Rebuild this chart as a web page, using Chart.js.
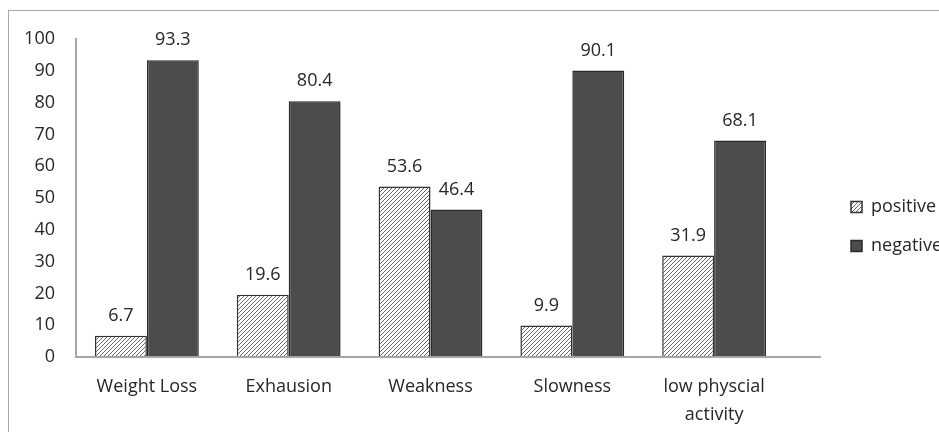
<!DOCTYPE html>
<html>
<head>
<meta charset="utf-8">
<script src="https://cdn.jsdelivr.net/npm/chart.js@4"></script>
<style>
  html, body { margin: 0; padding: 0; background: #fff; overflow: hidden; width: 939px; height: 432px; }
  #frame { position: absolute; left: 8px; top: 10px; width: 1000px; height: 500px; border: 1px solid #a6a6a6; background: #fff; }
  #c { position: absolute; left: 0; top: 0; }
</style>
</head>
<body>
<div id="frame"><canvas id="c" width="943" height="426"></canvas></div>
<script>
const categories = ["Weight Loss", "Exhausion", "Weakness", "Slowness", ["low physcial", "activity"]];
const positiveValues = [6.7, 19.6, 53.6, 9.9, 31.9];
const negativeValues = [93.3, 80.4, 46.4, 90.1, 68.1];
const seriesNames = ["positive", "negative"];
const yTicks = [0, 10, 20, 30, 40, 50, 60, 70, 80, 90, 100];

const FONT = "'Open Sans', 'Noto Sans', sans-serif";
const TEXT = "#262626";

function hatch() {
  const n = 4;
  const t = document.createElement("canvas");
  t.width = n; t.height = n;
  const g = t.getContext("2d");
  g.fillStyle = "#ffffff";
  g.fillRect(0, 0, n, n);
  g.strokeStyle = "#666666";
  g.lineWidth = 1;
  g.beginPath();
  g.moveTo(-1, n + 1); g.lineTo(n + 1, -1);
  g.moveTo(-1, 1); g.lineTo(1, -1);
  g.moveTo(n - 1, n + 1); g.lineTo(n + 1, n - 1);
  g.stroke();
  return g.createPattern(t, "repeat");
}

const valueLabels = {
  id: "valueLabels",
  afterDatasetsDraw(chart) {
    const ctx = chart.ctx;
    ctx.save();
    ctx.font = "18px " + FONT;
    ctx.fillStyle = TEXT;
    ctx.textAlign = "center";
    ctx.textBaseline = "middle";
    chart.data.datasets.forEach((ds, di) => {
      chart.getDatasetMeta(di).data.forEach((bar, i) => {
        ctx.fillText(ds.data[i].toFixed(1), bar.x, bar.y - 20);
      });
    });
    ctx.restore();
  }
};

const baseLine = {
  id: "baseLine",
  afterDraw(chart) {
    const a = chart.chartArea;
    const y = chart.scales.y.getPixelForValue(0);
    const ctx = chart.ctx;
    ctx.save();
    ctx.strokeStyle = "#a6a6a6";
    ctx.lineWidth = 2;
    ctx.beginPath();
    ctx.moveTo(a.left, y);
    ctx.lineTo(a.right + 36, y);
    ctx.stroke();
    ctx.restore();
  }
};

new Chart(document.getElementById("c"), {
  type: "bar",
  data: {
    labels: categories,
    datasets: [
      { label: seriesNames[0], data: positiveValues, backgroundColor: hatch(), borderColor: "#333333", borderWidth: 1.5 },
      { label: seriesNames[1], data: negativeValues, backgroundColor: "#4b4c4e", borderColor: "#2a2a2a", borderWidth: 1.5 }
    ]
  },
  options: {
    responsive: false,
    animation: false,
    devicePixelRatio: 1,
    layout: { padding: { top: 28, left: 0, right: 0, bottom: 0 } },
    datasets: { bar: { categoryPercentage: 0.732, barPercentage: 1.0 } },
    plugins: {
      legend: {
        position: "right",
        align: "start",
        title: { display: true, text: " ", font: { family: FONT, size: 10, lineHeight: 1 }, padding: { top: 128, bottom: 0 } },
        labels: {
          font: { family: FONT, size: 18 },
          color: TEXT,
          boxWidth: 11,
          boxHeight: 11,
          padding: 21
        }
      },
      tooltip: { enabled: false }
    },
    scales: {
      x: {
        grid: { display: false, drawTicks: false },
        border: { display: false },
        ticks: { font: { family: FONT, size: 18, lineHeight: 1.55 }, color: TEXT, padding: 16, maxRotation: 0, autoSkip: true },
        afterFit(s) { s.height = 80; }
      },
      y: {
        min: 0, max: 100,
        afterBuildTicks(s) { s.ticks = yTicks.map(v => ({ value: v })); },
        grid: { display: false, drawTicks: false },
        border: { display: true, color: "#a6a6a6", width: 2 },
        ticks: { font: { family: FONT, size: 18 }, color: TEXT, padding: 21 },
        afterFit(s) { s.width = 67; s.paddingTop = 0; s.paddingBottom = 0; }
      },
      gap: {
        type: "linear",
        position: "right",
        display: true,
        grid: { display: false, drawTicks: false },
        border: { display: false },
        ticks: { display: false },
        afterFit(s) { s.width = 45; s.paddingTop = 0; s.paddingBottom = 0; }
      }
    }
  },
  plugins: [valueLabels, baseLine]
});
</script>
</body>
</html>
